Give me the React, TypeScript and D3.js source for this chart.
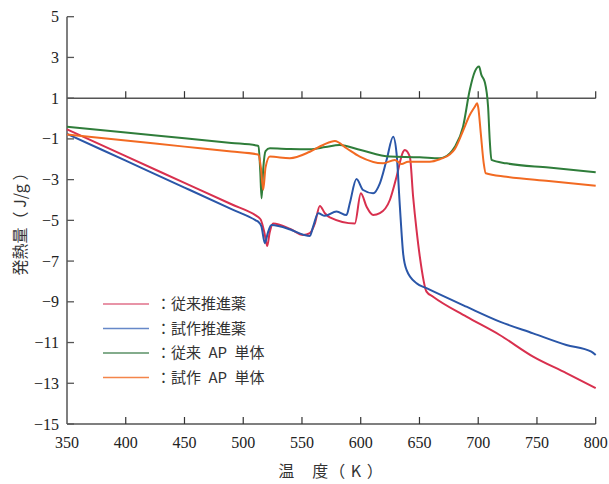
import React from "react";
import * as d3 from "d3";

const W = 609;
const H = 484;

const xTicks = [350, 400, 450, 500, 550, 600, 650, 700, 750, 800];
const yTicks = [5, 3, 1, -1, -3, -5, -7, -9, -11, -13, -15];

const legendLabels = ["：従来推進薬", "：試作推進薬", "：従来\u2002AP\u2002単体", "：試作\u2002AP\u2002単体"];

const redT = [350, 400, 450, 490, 511, 513, 515, 518, 520.4, 522.5, 525.5, 540, 551, 556.7, 561, 565.2, 569.5, 573.7, 595, 600.1, 605, 610.6, 616.3, 624.8, 630.5, 636.1, 637.5, 641.8, 644.6, 647.5, 650.3, 656, 661.6, 690, 718.3, 746.7, 775, 800];
const redV = [-0.53, -1.85, -3.16, -4.21, -4.77, -4.85, -4.98, -5.6, -6.26, -5.6, -5.15, -5.42, -5.72, -5.63, -5.15, -4.29, -4.65, -4.85, -5.15, -3.67, -4.33, -4.74, -4.65, -4.0, -2.86, -1.63, -1.54, -1.87, -3.84, -5.47, -6.78, -8.5, -8.75, -9.73, -10.63, -11.69, -12.5, -13.24];

const blueT = [350, 400, 450, 490, 511, 513, 515.5, 518.4, 521, 524, 540, 551, 556.7, 559.5, 563.8, 569.5, 579.4, 587.9, 590.7, 596.4, 602, 610.6, 616.3, 622, 627.6, 630.5, 633.3, 636.1, 639, 647.5, 656, 690, 718.3, 746.7, 775, 796.3, 800];
const blueV = [-0.75, -2.07, -3.39, -4.45, -5.01, -5.08, -5.3, -6.12, -5.6, -5.23, -5.45, -5.7, -5.77, -5.31, -4.65, -4.78, -4.57, -4.74, -4.16, -2.97, -3.51, -3.67, -3.18, -2.04, -0.89, -1.71, -4.3, -6.62, -7.43, -8.09, -8.33, -9.24, -9.97, -10.55, -11.12, -11.45, -11.61];

const greenT = [350, 400, 450, 490, 511, 513, 514.5, 515.6, 517, 519, 522.7, 540, 556.7, 570, 582, 600, 624.8, 650.3, 667.3, 676, 680, 687.1, 692.8, 697.1, 700.7, 702.7, 705.5, 708.4, 709.8, 711.3, 724, 760, 800];
const greenV = [-0.4, -0.69, -0.97, -1.2, -1.32, -1.35, -2.6, -3.92, -2.5, -1.6, -1.46, -1.5, -1.51, -1.4, -1.3, -1.55, -1.87, -1.9, -1.95, -1.7, -1.4, -0.4, 1.4, 2.3, 2.55, 2.14, 1.81, 0.58, -1.05, -2.03, -2.2, -2.41, -2.64];

const orangeT = [350, 400, 450, 490, 511, 513, 515, 517, 519, 522.7, 539.7, 556.7, 568, 578, 587.9, 599.2, 619, 629, 634.7, 640.3, 658.8, 667.3, 676, 680, 687.1, 692.8, 697.1, 699, 700, 702.2, 704.7, 706.4, 724, 760, 800];
const orangeV = [-0.78, -1.08, -1.38, -1.62, -1.75, -1.78, -2.4, -3.5, -2.4, -1.87, -1.95, -1.63, -1.3, -1.1, -1.46, -1.87, -2.2, -2.04, -2.23, -2.12, -2.12, -2.0, -1.75, -1.5, -0.6, 0.17, 0.58, 0.75, 0.55, -0.73, -2.2, -2.69, -2.86, -3.07, -3.3];

const series = [
  { t: redT, v: redV, color: "#d8304e", legend: "#e0708a" },
  { t: blueT, v: blueV, color: "#2a56a8", legend: "#6688c8" },
  { t: greenT, v: greenV, color: "#2f7d3a", legend: "#5a9066" },
  { t: orangeT, v: orangeV, color: "#f26a22", legend: "#f4854a" },
];

export default function App() {
  const x = d3.scaleLinear().domain([350, 800]).range([67, 595.7]);
  const y = d3.scaleLinear().domain([5, -15]).range([16.7, 424]);
  const line = d3
    .line<[number, number]>()
    .x((d) => x(d[0]))
    .y((d) => y(d[1]))
    .curve(d3.curveMonotoneX);
  const axisColor = "#555";
  const serif = "'Liberation Serif', 'DejaVu Serif', serif";
  const cjk = "'Noto Sans CJK JP', sans-serif";
  const fmt = (v: number) => (v < 0 ? "\u2212" + Math.abs(v) : String(v));

  return (
    <svg width={W} height={H} style={{ position: "absolute", left: 0, top: 0, background: "#fff" }}>
      {/* y axis */}
      <line x1={x(350)} x2={x(350)} y1={y(5)} y2={y(-15)} stroke={axisColor} strokeWidth={1.5} />
      {yTicks.map((t) => (
        <g key={"y" + t}>
          <line x1={x(350)} x2={x(350) + 7} y1={y(t)} y2={y(t)} stroke={axisColor} strokeWidth={1.3} />
          <text x={59} y={y(t)} dy="0.35em" textAnchor="end" fontFamily={serif} fontSize={16} fill="#222">
            {fmt(t)}
          </text>
        </g>
      ))}
      {/* bottom axis */}
      <line x1={x(350)} x2={x(800)} y1={y(-15)} y2={y(-15)} stroke={axisColor} strokeWidth={1.5} />
      {/* line at y = 1 */}
      <line x1={x(350)} x2={x(800)} y1={y(1)} y2={y(1)} stroke={axisColor} strokeWidth={1.5} />
      {xTicks.map((t) => (
        <g key={"x" + t}>
          {t !== 350 && (
            <>
              <line x1={x(t)} x2={x(t)} y1={y(-15)} y2={y(-15) - 7} stroke="#333" strokeWidth={1.2} />
              <line x1={x(t)} x2={x(t)} y1={y(1)} y2={y(1) - 7} stroke="#333" strokeWidth={1.2} />
            </>
          )}
          <text x={x(t)} y={448} textAnchor="middle" fontFamily={serif} fontSize={16} fill="#222">
            {t}
          </text>
        </g>
      ))}
      {/* series */}
      {series.map((s, i) => (
        <path
          key={"s" + i}
          d={line(s.t.map((tt, j) => [tt, s.v[j]] as [number, number])) || ""}
          fill="none"
          stroke={s.color}
          strokeWidth={2}
          strokeLinejoin="round"
        />
      ))}
      {/* legend */}
      {series.map((s, i) => (
        <g key={"l" + i}>
          <line x1={103} x2={149} y1={304 + i * 24.5} y2={304 + i * 24.5} stroke={s.legend} strokeWidth={1.6} />
          <text x={156} y={304 + i * 24.5} dy="0.36em" fontFamily={cjk} fontSize={15} fill="#333" style={{ whiteSpace: "pre" }}>
            {legendLabels[i]}
          </text>
        </g>
      ))}
      {/* axis titles */}
      <text
        transform={`translate(20,${220}) rotate(-90)`}
        textAnchor="middle"
        dy="0.35em"
        fontFamily={cjk}
        fontSize={16}
        fill="#333"
      >
        発熱量（ J/g ）
      </text>
      <text x={331} y={477} textAnchor="middle" fontFamily={cjk} fontSize={16} fill="#333" letterSpacing={1}>
        温　度（ K ）
      </text>
    </svg>
  );
}
